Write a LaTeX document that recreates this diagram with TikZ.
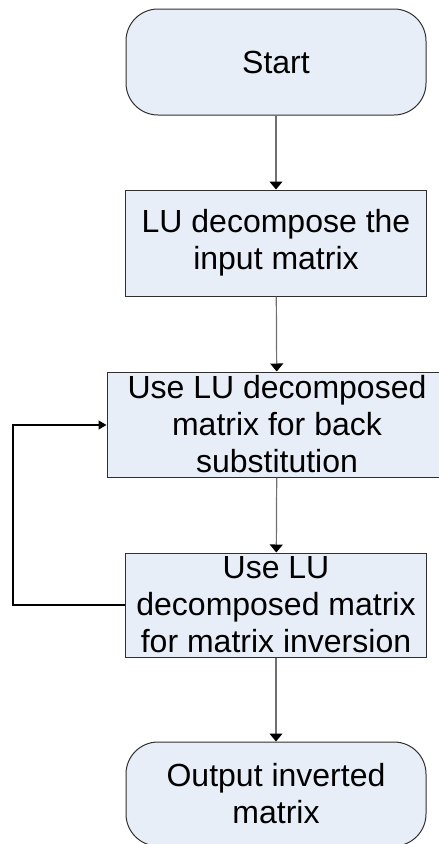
\documentclass[tikz,border=0pt]{standalone}
\usepackage{fontspec}
\setmainfont{Liberation Sans}
\usetikzlibrary{arrows.meta}
\definecolor{boxfill}{HTML}{E8EEF8}
\definecolor{boxdraw}{HTML}{303030}
\definecolor{linegray}{HTML}{707070}
\begin{document}
\begin{tikzpicture}[x=1pt,y=-1pt,
  every node/.style={font=\fontsize{32}{37}\selectfont, align=center, inner sep=0pt},
  procbox/.style={draw=boxdraw, fill=boxfill, line width=1pt, rectangle},
  termbox/.style={draw=boxdraw, fill=boxfill, line width=1pt, rectangle, rounded corners=32pt},
  flow/.style={draw=linegray, line width=1.2pt, -{Triangle[length=8pt,width=13pt,fill=black,color=black]}},
  loopline/.style={draw=black, line width=1.2pt, -{Triangle[length=8pt,width=9pt]}}]
\useasboundingbox (0,0) rectangle (439,844);
\node[termbox, minimum width=300pt, minimum height=106pt] (start) at (276,62) {Start};
\node[procbox, minimum width=301pt, minimum height=106pt] (lu) at (276,243) {LU decompose the\\input matrix};
\node[procbox, minimum width=340pt, minimum height=105pt] (back) at (277,424.5) {Use LU decomposed\\matrix for back\\substitution};
\node[procbox, minimum width=301pt, minimum height=104pt] (inv) at (276,605) {Use LU\\decomposed matrix\\for matrix inversion};
\node[termbox, minimum width=300pt, minimum height=104pt] (out) at (276,794) {Output inverted\\matrix};
\coordinate (lc1) at (13,605);
\coordinate (lc2) at (13,425);
\path[flow] (start) -- (lu);
\path[flow] (lu) -- (back);
\path[flow] (back) -- (inv);
\path[flow] (inv) -- (out);
\draw[loopline] (inv.west |- lc1) -- (lc1) -- (lc2) -- (back.west |- lc2);
\end{tikzpicture}
\end{document}
